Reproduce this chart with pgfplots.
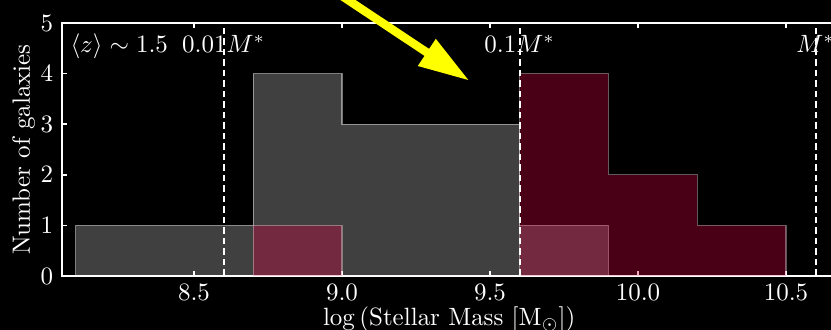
\documentclass[border=0pt]{standalone}
\usepackage{pgfplots}
\pgfplotsset{compat=1.18}
\usetikzlibrary{backgrounds}

% histogram fills: grey sample drawn first, red sample translucent on top
\definecolor{histred}{RGB}{215,0,65}
\definecolor{arrowyellow}{RGB}{255,255,0}

\begin{document}
\begin{tikzpicture}
\begin{axis}[
  scale only axis,
  width=309.72pt, height=101.2pt,
  xmin=8.054, xmax=10.67,
  ymin=0, ymax=5,
  clip=false,
  axis line style={white, line width=0.7pt},
  tick style={white, line width=0.6pt},
  tick align=inside,
  major tick length=2pt,
  ytick={0,1,2,3,4,5},
  ytick pos=left,
  xtick={8.5,9.0,9.5,10.0,10.5},
  xtick pos=both,
  minor tick num=0,
  xticklabel style={/pgf/number format/.cd, fixed, fixed zerofill, precision=1},
  every tick label/.append style={text=white},
  label style={text=white},
  xlabel={$\log\,(\mathrm{Stellar\ Mass\ [M_{\odot}]})$},
  ylabel={Number of galaxies},
  xlabel style={yshift=4.6pt},
  ylabel style={yshift=-4.6pt},
]
% grey histogram (bin left edges, counts; last point closes the final bin)
\addplot[const plot, fill=white, fill opacity=0.25, draw=white, draw opacity=0.45, line width=0.45pt]
  coordinates {(8.1,1) (8.4,1) (8.7,4) (9.0,3) (9.3,3) (9.6,1) (9.9,0)} \closedcycle;
% red histogram
\addplot[const plot, fill=histred, fill opacity=0.34, draw=white, draw opacity=0.35, line width=0.45pt]
  coordinates {(8.7,1) (9.0,0) (9.3,0) (9.6,4) (9.9,2) (10.2,1) (10.5,0)} \closedcycle;

% characteristic mass fractions
\addplot[white, line width=0.8pt, dash pattern=on 2.6pt off 1.6pt] coordinates {(8.6,0) (8.6,5)};
\addplot[white, line width=0.8pt, dash pattern=on 2.6pt off 1.6pt] coordinates {(9.6,0) (9.6,5)};
\addplot[white, line width=0.8pt, dash pattern=on 2.6pt off 1.6pt] coordinates {(10.6,0) (10.6,5)};

\node[anchor=base west, inner sep=0pt, text=white] at (axis cs:8.081,4.407) {$\langle z\rangle \sim 1.5$};
\node[anchor=base, inner sep=0pt, text=white] at (axis cs:8.6,4.407) {$0.01M^{*}$};
\node[anchor=base, inner sep=0pt, text=white] at (axis cs:9.6,4.407) {$0.1M^{*}$};
\node[anchor=base, inner sep=0pt, text=white] at (axis cs:10.6,4.407) {$M^{*}$};

% pointer arrow
\fill[arrowyellow] (axis cs:8.9567,5.8004) -- (axis cs:9.2942,4.4881) -- (axis cs:9.3168,4.6877)
  -- (axis cs:9.4266,3.8735) -- (axis cs:9.2560,4.1502) -- (axis cs:9.2787,4.3498)
  -- (axis cs:8.9412,5.6621) -- cycle;

\coordinate (bbsw) at (axis cs:7.8445,-1.0672);
\coordinate (bbne) at (axis cs:10.652,5.4545);
\end{axis}
\pgfresetboundingbox
\path[use as bounding box] (bbsw) rectangle (bbne);
\begin{scope}[on background layer]
  \fill[black] (bbsw) rectangle (bbne);
\end{scope}
\end{tikzpicture}
\end{document}
